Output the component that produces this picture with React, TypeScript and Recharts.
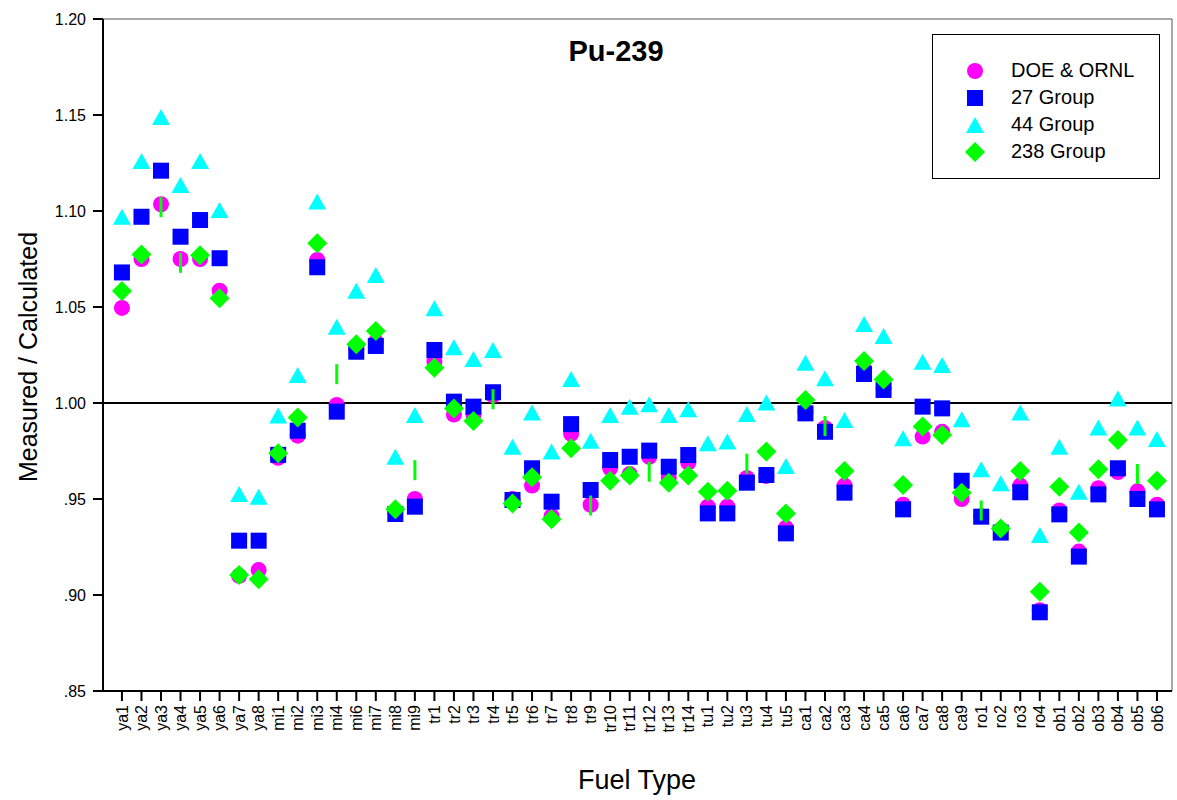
import {
  ScatterChart,
  Scatter,
  XAxis,
  YAxis,
  ReferenceLine,
} from "recharts";

const categories = [
  "ya1", "ya2", "ya3", "ya4", "ya5", "ya6", "ya7", "ya8",
  "mi1", "mi2", "mi3", "mi4", "mi6", "mi7", "mi8", "mi9",
  "tr1", "tr2", "tr3", "tr4", "tr5", "tr6", "tr7", "tr8", "tr9", "tr10", "tr11", "tr12", "tr13", "tr14",
  "tu1", "tu2", "tu3", "tu4", "tu5",
  "ca1", "ca2", "ca3", "ca4", "ca5", "ca6", "ca7", "ca8", "ca9",
  "ro1", "ro2", "ro3", "ro4",
  "ob1", "ob2", "ob3", "ob4", "ob5", "ob6",
];

const doeOrnl = [
  1.0495, 1.075, 1.1035, 1.075, 1.075, 1.0585, 0.91, 0.913,
  0.9715, 0.983, 1.0745, 0.999, 1.028, 1.032, 0.943, 0.95,
  1.0215, 0.994, 0.994, 1.004, 0.95, 0.957, 0.941, 0.984, 0.947, 0.966, 0.963, 0.972, 0.961, 0.969,
  0.946, 0.946, 0.961, 0.962, 0.935,
  0.9955, 0.987, 0.957, 1.018, 1.0077, 0.947, 0.9825, 0.985, 0.95,
  0.941, 0.934, 0.957, 0.892,
  0.944, 0.9226, 0.9556, 0.964, 0.954, 0.947,
];

const group27 = [
  1.068, 1.097, 1.121, 1.0866, 1.0953, 1.0754, 0.9283, 0.9283,
  0.973, 0.9856, 1.0707, 0.9955, 1.0267, 1.0297, 0.9422, 0.946,
  1.0276, 1.0007, 0.9981, 1.0056, 0.9495, 0.966, 0.9486, 0.989, 0.9547, 0.9703, 0.972, 0.9752, 0.9668, 0.9729,
  0.9425, 0.9425, 0.9585, 0.9625, 0.9321,
  0.9946, 0.985, 0.9533, 1.0151, 1.0068, 0.9446, 0.9981, 0.9972, 0.9595,
  0.9408, 0.9325, 0.9535, 0.891,
  0.942, 0.92, 0.9524, 0.966, 0.95, 0.9446,
];

const group44 = [
  1.097, 1.126, 1.149, 1.1135, 1.126, 1.1005, 0.9526, 0.9512,
  0.9935, 1.0146, 1.105, 1.0397, 1.0585, 1.0667, 0.972, 0.9937,
  1.0493, 1.029, 1.0229, 1.0276, 0.9772, 0.995, 0.9747, 1.0125, 0.9804, 0.9937, 0.998, 0.9993, 0.9937, 0.9967,
  0.979, 0.98, 0.9943, 1.0002, 0.9672,
  1.021, 1.0129, 0.9911, 1.0411, 1.0349, 0.9816, 1.0215, 1.0198, 0.9915,
  0.9655, 0.9582, 0.9951, 0.9313,
  0.9772, 0.9538, 0.9873, 1.0024, 0.9873, 0.9812,
];

const group238 = [
  1.0583, 1.0774, null, null, 1.077, 1.0545, 0.9104, 0.9082,
  0.9738, 0.9924, 1.0832, null, 1.0306, 1.0375, 0.9446, null,
  1.0184, 0.9972, 0.9906, null, 0.9477, 0.9613, 0.9394, 0.9764, null, 0.9595, 0.9622, null, 0.9585, 0.9622,
  0.9538, 0.9543, null, 0.9747, 0.9425,
  1.0016, null, 0.9646, 1.0219, 1.0123, 0.9573, 0.9877, 0.9833, 0.9533,
  null, 0.9347, 0.9646, 0.9017,
  0.9564, 0.9325, 0.9655, 0.9807, null, 0.9595,
];

// 238 group points that show up as short green ticks instead of diamonds
const group238Ticks = [
  null, null, 1.102, 1.073, null, null, null, null,
  null, null, null, 1.015, null, null, null, 0.965,
  null, null, null, 1.002, null, null, null, null, 0.9466, null, null, 0.9642, null, null,
  null, null, 0.9684, null, null,
  null, 0.988, null, null, null, null, null, null, null,
  0.944, null, null, null,
  null, null, null, null, 0.963, null,
];

const yTicks = [0.85, 0.9, 0.95, 1.0, 1.05, 1.1, 1.15, 1.2];

const toPoints = (vals: (number | null)[]) =>
  vals
    .map((v, i) => ({ x: i, y: v }))
    .filter((p) => p.y !== null);

const FONT = '"Liberation Sans", Arial, sans-serif';
const X_MIN = -0.97;
const X_MAX = 53.77;

const CircleDot = (props: any) => (
  <circle cx={props.cx} cy={props.cy} r={8} fill="#ff00ff" />
);
const SquareDot = (props: any) => (
  <rect x={props.cx - 8} y={props.cy - 8} width={16} height={16} fill="#0000ff" />
);
const TriangleDot = (props: any) => (
  <polygon
    points={`${props.cx},${props.cy - 8} ${props.cx + 9},${props.cy + 8} ${props.cx - 9},${props.cy + 8}`}
    fill="#00ffff"
  />
);
const DiamondDot = (props: any) => (
  <polygon
    points={`${props.cx},${props.cy - 10} ${props.cx + 10},${props.cy} ${props.cx},${props.cy + 10} ${props.cx - 10},${props.cy}`}
    fill="#00ff00"
  />
);
const TickDot = (props: any) => (
  <line x1={props.cx} y1={props.cy - 10} x2={props.cx} y2={props.cy + 10} stroke="#00ff00" strokeWidth={3} />
);

const XTick = (props: any) => {
  const { x, y, payload } = props;
  return (
    <text
      x={x}
      y={y}
      transform={`rotate(-90 ${x} ${y})`}
      textAnchor="end"
      dy="0.35em"
      fontSize={16}
      fontFamily={FONT}
      fill="#000"
    >
      {categories[payload.value]}
    </text>
  );
};

const legendItems = [
  { name: "DOE & ORNL", icon: <circle cx={10} cy={10} r={8} fill="#ff00ff" /> },
  { name: "27 Group", icon: <rect x={2} y={2} width={16} height={16} fill="#0000ff" /> },
  { name: "44 Group", icon: <polygon points="10,2 19,18 1,18" fill="#00ffff" /> },
  { name: "238 Group", icon: <polygon points="10,0 20,10 10,20 0,10" fill="#00ff00" /> },
];

export default function App() {
  return (
    <div style={{ position: "absolute", left: 0, top: 0, width: 1177, height: 800, background: "#fff" }}>
      <ScatterChart width={1177} height={800} margin={{ top: 19, right: 5, bottom: 49, left: 0 }}>
        <XAxis
          type="number"
          dataKey="x"
          domain={[X_MIN, X_MAX]}
          ticks={categories.map((_, i) => i)}
          interval={0}
          allowDataOverflow
          height={60}
          tick={<XTick />}
          tickSize={10}
          tickMargin={4}
          axisLine={{ stroke: "#000", strokeWidth: 2 }}
          tickLine={{ stroke: "#000", strokeWidth: 2 }}
        />
        <YAxis
          type="number"
          dataKey="y"
          domain={[0.85, 1.2]}
          ticks={yTicks}
          interval={0}
          allowDataOverflow
          width={103}
          tickSize={10}
          tickMargin={7}
          tickFormatter={(v: number) => (v >= 1 ? v.toFixed(2) : v.toFixed(2).replace(/^0/, ""))}
          tick={{ fontSize: 16, fontFamily: FONT, fill: "#000" }}
          axisLine={{ stroke: "#000", strokeWidth: 2 }}
          tickLine={{ stroke: "#000", strokeWidth: 2 }}
        />
        <ReferenceLine y={1.2} stroke="#555" strokeWidth={1} />
        <ReferenceLine x={X_MAX} stroke="#555" strokeWidth={1} />
        <ReferenceLine y={1.0} stroke="#000" strokeWidth={2} />
        <Scatter name="DOE & ORNL" data={toPoints(doeOrnl)} shape={<CircleDot />} isAnimationActive={false} />
        <Scatter name="27 Group" data={toPoints(group27)} shape={<SquareDot />} isAnimationActive={false} />
        <Scatter name="44 Group" data={toPoints(group44)} shape={<TriangleDot />} isAnimationActive={false} />
        <Scatter name="238 Group" data={toPoints(group238)} shape={<DiamondDot />} isAnimationActive={false} />
        <Scatter
          name="238 Group range"
          legendType="none"
          data={toPoints(group238Ticks)}
          shape={<TickDot />}
          isAnimationActive={false}
        />
      </ScatterChart>
      <div
        style={{
          position: "absolute",
          left: 932,
          top: 34,
          width: 228,
          height: 145,
          border: "1.5px solid #000",
          background: "#fff",
          paddingTop: 22,
          boxSizing: "border-box",
        }}
      >
        {legendItems.map((it) => (
          <div key={it.name} style={{ display: "flex", alignItems: "center", height: 27 }}>
            <svg width={20} height={20} style={{ marginLeft: 32 }}>
              {it.icon}
            </svg>
            <span style={{ marginLeft: 26, fontSize: 20, fontFamily: FONT, color: "#000" }}>{it.name}</span>
          </div>
        ))}
      </div>
      <div
        style={{
          position: "absolute",
          left: 616,
          top: 51,
          transform: "translate(-50%, -50%)",
          fontFamily: FONT,
          fontWeight: "bold",
          fontSize: 29,
          whiteSpace: "nowrap",
        }}
      >
        Pu-239
      </div>
      <div
        style={{
          position: "absolute",
          left: 28,
          top: 357,
          transform: "translate(-50%, -50%) rotate(-90deg)",
          fontFamily: FONT,
          fontSize: 25,
          whiteSpace: "nowrap",
        }}
      >
        Measured / Calculated
      </div>
      <div
        style={{
          position: "absolute",
          left: 637,
          top: 780,
          transform: "translate(-50%, -50%)",
          fontFamily: FONT,
          fontSize: 27,
          whiteSpace: "nowrap",
        }}
      >
        Fuel Type
      </div>
    </div>
  );
}
